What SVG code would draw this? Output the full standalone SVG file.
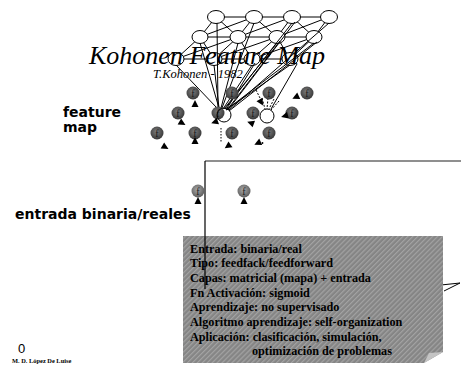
<svg xmlns="http://www.w3.org/2000/svg" width="461" height="372" viewBox="0 0 461 372">
<defs>
<style>
.gl{stroke:#000;stroke-width:1;fill:none}
.ge{fill:#fff;stroke:#000;stroke-width:1}
.fan{stroke:#000;stroke-width:1;fill:none}
.fl{font-family:"Liberation Serif",serif;font-size:10px;fill:#1a1a1a;text-anchor:middle}
.lab{font-family:"DejaVu Sans",sans-serif;font-weight:bold;font-size:14px;fill:#000}
.note{font-family:"Liberation Serif",serif;font-weight:bold;font-size:12.2px;fill:#000}
.tri{fill:#000}
</style>
<radialGradient id="gd" cx="45%" cy="40%" r="60%"><stop offset="0" stop-color="#7c7c7c"/><stop offset="1" stop-color="#383838"/></radialGradient>
<radialGradient id="gl" cx="45%" cy="40%" r="60%"><stop offset="0" stop-color="#a8a8a8"/><stop offset="1" stop-color="#5c5c5c"/></radialGradient>
<pattern id="hatch" width="3.5" height="3.5" patternUnits="userSpaceOnUse" patternTransform="rotate(45)"><rect width="3.5" height="3.5" fill="#858585"/><rect width="1.2" height="3.5" fill="#a3a3a3"/></pattern>
<path id="tr" d="M0,-4 L3.5,3 L-3.5,3 Z"/>
</defs>
<rect width="461" height="372" fill="#fff"/>

<g id="connectors">
<path class="gl" d="M216,17 L329,17 M200,37 L314,37 M176,59 L290,59"/>
<path class="gl" d="M216,17 L200,37 M254,17 L238,37 M292,17 L277,37 M329,17 L314,37 M200,37 L176,59 M238,37 L214,59 M277,37 L252,59 M314,37 L290,59"/>
<path class="gl" d="M216,17 L238,37 M254,17 L277,37 M292,17 L314,37 M254,17 L200,37 M292,17 L238,37 M329,17 L277,37 M200,37 L214,59 M238,37 L252,59 M277,37 L290,59 M238,37 L176,59 M277,37 L214,59 M314,37 L252,59"/>
</g>
<g id="grid">
<ellipse class="ge" cx="216" cy="17" rx="8.5" ry="6.5"/>
<ellipse class="ge" cx="254" cy="17" rx="8.5" ry="6.5"/>
<ellipse class="ge" cx="292" cy="17" rx="8.5" ry="6.5"/>
<ellipse class="ge" cx="329" cy="17" rx="8.5" ry="6.5"/>
<ellipse class="ge" cx="200" cy="37" rx="8" ry="6.5"/>
<ellipse class="ge" cx="238" cy="37" rx="8" ry="6.5"/>
<ellipse class="ge" cx="277" cy="37" rx="8" ry="6.5"/>
<ellipse class="ge" cx="314" cy="37" rx="8" ry="6.5"/>
<ellipse class="ge" cx="176" cy="59" rx="8" ry="6.5"/>
<ellipse class="ge" cx="214" cy="59" rx="8" ry="6.5"/>
<ellipse class="ge" cx="252" cy="59" rx="8" ry="6.5"/>
<ellipse class="ge" cx="290" cy="59" rx="8" ry="6.5"/>
</g>

<g id="fanlines">
<path class="fan" d="M217,23 L218,108 M200,43 L219,108 M176,65 L217,108 M214,65 L219,108 M238,43 L221,108 M254,23 L222,108 M252,65 L223,109 M255,63 L226,110 M277,43 L224,109 M280,41 L227,110 M292,23 L225,109 M295,22 L228,110 M314,43 L226,110 M317,42 L229,111 M290,65 L226,110 M329,23 L229,110 M297,64 L271,109"/>
<path class="fan" stroke-dasharray="2,1.5" d="M256,90 L263,104 M262,98 L265,109 M268,98 L267,109 M274,99 L269,109 M279,101 L271,110"/>
<path class="fan" stroke-dasharray="1.5,1.5" stroke-width="1.2" d="M221,128 L221,143"/>
<path class="fan" d="M437,296 L441,285 L460,283 M444,291 L460,283"/>
</g>

<text x="89" y="64" font-family="Liberation Serif, serif" font-style="italic" font-size="26" fill="#000">Kohonen Feature Map</text>
<text x="153" y="77.5" font-family="Liberation Serif, serif" font-style="italic" font-size="12.5" fill="#000">T.Kohonen - 1982</text>

<g id="fm">
<g id="n11"><circle cx="193" cy="93" r="6.5" fill="url(#gd)"/><text class="fl" x="193" y="96.5">f</text></g>
<g id="n12"><circle cx="232" cy="93" r="6.5" fill="url(#gd)"/><text class="fl" x="232" y="96.5">f</text></g>
<g id="n13"><circle cx="269" cy="93" r="6.5" fill="url(#gd)"/><text class="fl" x="269" y="96.5">f</text></g>
<g id="n14"><circle cx="307" cy="93" r="6.5" fill="url(#gd)"/><text class="fl" x="307" y="96.5">f</text></g>
<g id="n21"><circle cx="178" cy="113" r="6.5" fill="url(#gd)"/><text class="fl" x="178" y="116.5">f</text></g>
<g id="n22"><circle cx="218" cy="113" r="6.5" fill="url(#gd)"/><text class="fl" x="218" y="116.5">f</text></g>
<g id="n23"><circle cx="253" cy="113" r="6.5" fill="url(#gd)"/><text class="fl" x="253" y="116.5">f</text></g>
<g id="n24"><circle cx="292" cy="113" r="6.5" fill="url(#gd)"/><text class="fl" x="292" y="116.5">f</text></g>
<g id="n31"><circle cx="157" cy="133" r="6.5" fill="url(#gd)"/><text class="fl" x="157" y="136.5">f</text></g>
<g id="n32"><circle cx="195" cy="133" r="6.5" fill="url(#gd)"/><text class="fl" x="195" y="136.5">f</text></g>
<g id="n33"><circle cx="232" cy="133" r="6.5" fill="url(#gd)"/><text class="fl" x="232" y="136.5">f</text></g>
<g id="n34"><circle cx="269" cy="133" r="6.5" fill="url(#gd)"/><text class="fl" x="269" y="136.5">f</text></g>
<circle id="win1" cx="224" cy="115" r="7" fill="none" stroke="#000" stroke-width="1"/>
<circle id="win2" cx="267" cy="116" r="7" fill="#fff" stroke="#000" stroke-width="1"/>
</g>

<g id="arrows">
<use href="#tr" class="tri" transform="translate(195,104)"/>
<use href="#tr" class="tri" transform="translate(261,102) rotate(150)"/>
<use href="#tr" class="tri" transform="translate(296,97) rotate(-115)"/>
<use href="#tr" class="tri" transform="translate(182,123) rotate(120)"/>
<use href="#tr" class="tri" transform="translate(215,122) rotate(-110)"/>
<use href="#tr" class="tri" transform="translate(251,123) rotate(-70)"/>
<use href="#tr" class="tri" transform="translate(285,116) rotate(-105)"/>
<use href="#tr" class="tri" transform="translate(165,147) rotate(120)"/>
<use href="#tr" class="tri" transform="translate(195,141)"/>
<use href="#tr" class="tri" transform="translate(228,146) rotate(-125)"/>
<use href="#tr" class="tri" transform="translate(258,143) rotate(-115)"/>
<circle cx="262.5" cy="143" r="0.9" fill="#000"/>
</g>

<text class="lab" x="63" y="117">feature</text>
<text class="lab" x="63" y="131.5">map</text>

<g id="frame">
<path d="M205,161 L461,161" stroke="#6a6a6a" stroke-width="1.6" fill="none"/>
<path d="M205,161 L205,289" stroke="#000" stroke-width="1.2" fill="none"/>
</g>

<g id="in1"><circle cx="198" cy="191" r="6.5" fill="url(#gl)"/><text class="fl" x="198" y="194.5">f</text><use href="#tr" class="tri" transform="translate(198,201)"/></g>
<g id="in2"><circle cx="244" cy="191" r="6.5" fill="url(#gl)"/><text class="fl" x="244" y="194.5">f</text><use href="#tr" class="tri" transform="translate(244,201)"/></g>

<text class="lab" x="15" y="219">entrada binaria/reales</text>

<g id="notebox">
<path d="M183,236 L443,236 L443,352 L424,363 L183,363 Z" fill="url(#hatch)"/>
<path d="M424,363 L443,352 L429,353 Z" fill="#c4c4c4"/>
<path d="M205,236 L205,289" stroke="#000" stroke-width="1.2" fill="none"/>
<text class="note" x="190" y="252.5">Entrada: binaria/real</text>
<text class="note" x="190" y="267.2">Tipo: feedfack/feedforward</text>
<text class="note" x="190" y="281.9">Capas: matricial (mapa) + entrada</text>
<text class="note" x="190" y="296.6">Fn Activación: sigmoid</text>
<text class="note" x="190" y="311.3">Aprendizaje: no supervisado</text>
<text class="note" x="190" y="326">Algoritmo aprendizaje: self-organization</text>
<text class="note" x="190" y="340.7">Aplicación: clasificación, simulación,</text>
<text class="note" x="252" y="355.4">optimización de problemas</text>
</g>

<text x="18" y="352.5" font-family="Liberation Sans, sans-serif" font-size="13" fill="#000">0</text>
<text x="12" y="363" font-family="Liberation Serif, serif" font-weight="bold" font-size="6.4" fill="#000">M. D. López De Luise</text>
</svg>
